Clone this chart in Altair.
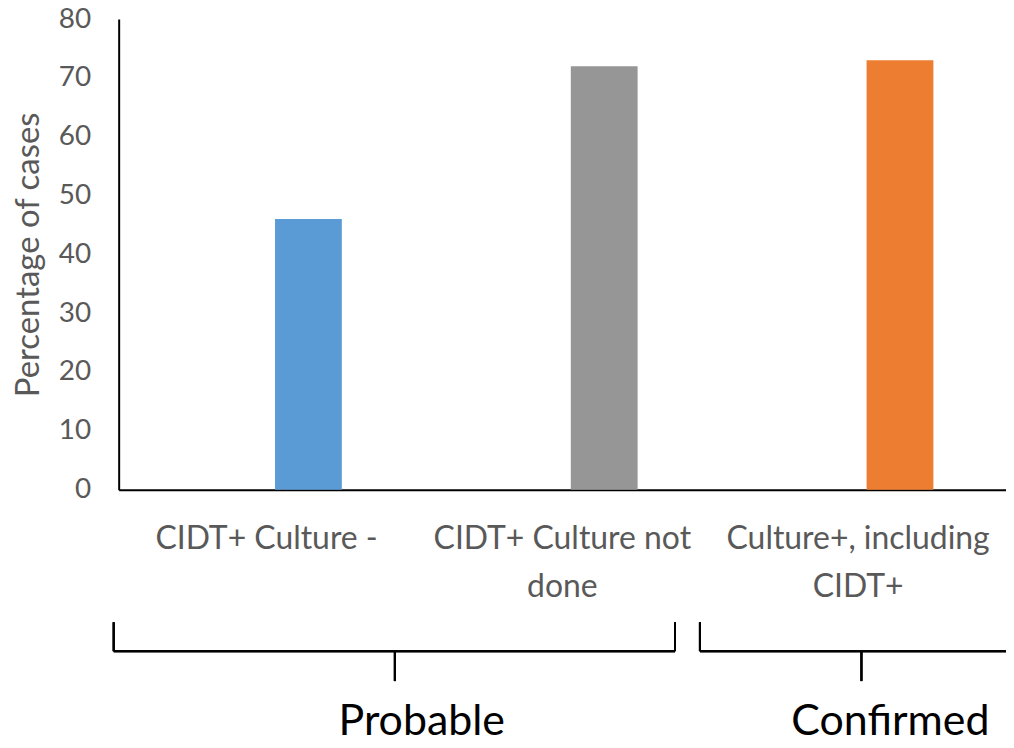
import altair as alt
import pandas as pd

categories = ["CIDT+ Culture -", "CIDT+ Culture not done", "Culture+, including CIDT+"]
label_lines = [["CIDT+ Culture -"], ["CIDT+ Culture not", "done"], ["Culture+, including", "CIDT+"]]
values = [46, 72, 73]
colors = ["#5B9BD5", "#969696", "#ED7D31"]
groups = ["Probable", "Confirmed"]

df = pd.DataFrame({"category": categories, "value": values, "color": colors})

FONT = "Lato"
GREY = "#595959"

# multi-line axis labels
expr = "datum.label"
for cat, lines in reversed(list(zip(categories, label_lines))):
    arr = "[" + ",".join("'" + l + "'" for l in lines) + "]"
    expr = f"datum.label == '{cat}' ? {arr} : ({expr})"

bars = alt.Chart(df).mark_bar(width=67, xOffset=42).encode(
    x=alt.X("category:N", sort=categories,
            scale=alt.Scale(paddingInner=0, paddingOuter=0),
            axis=alt.Axis(title=None, labelAngle=0, labelExpr=expr, ticks=False,
                          domainColor="black", domainWidth=2,
                          labelFont=FONT, labelFontSize=32, labelColor=GREY,
                          labelPadding=34, labelLineHeight=48, labelLimit=400)),
    y=alt.Y("value:Q", scale=alt.Scale(domain=[0, 80]),
            axis=alt.Axis(title="Percentage of cases", values=list(range(0, 81, 10)),
                          ticks=False, grid=False, domainColor="black", domainWidth=2,
                          labelFont=FONT, labelFontSize=28, labelColor=GREY, labelPadding=28,
                          titleFont=FONT, titleFontSize=33, titleFontWeight="normal",
                          titleColor=GREY, titlePadding=13)),
    color=alt.Color("color:N", scale=None),
)

# bracket decorations
def rule(x1, x2, y1, y2):
    return alt.Chart(df).mark_rule(color="black", strokeWidth=2).encode(
        x=alt.value(x1), x2=alt.value(x2), y=alt.value(y1), y2=alt.value(y2))

brackets = [
    rule(-5, -5, 605, 634), rule(-5, 558, 634, 634), rule(558, 558, 605, 634), rule(277, 277, 634, 664),
    rule(583, 583, 605, 634), rule(583, 900, 634, 634), rule(745, 745, 634, 664),
]

def label(text, x, y):
    return alt.Chart(pd.DataFrame({"t": [text]})).mark_text(
        font=FONT, fontSize=43, color="black", align="center", baseline="alphabetic"
    ).encode(text="t:N", x=alt.value(x), y=alt.value(y))

texts = [label(groups[0], 304, 718), label(groups[1], 774, 718)]

chart = alt.layer(bars, *brackets, *texts).properties(
    width=890, height=472,
    autosize=alt.AutoSizeParams(type="none"),
    padding={"left": 111, "top": 10, "right": 0, "bottom": 250},
).configure_view(stroke=None)

chart.save("out.html", embed_options={"renderer": "svg", "actions": False})
